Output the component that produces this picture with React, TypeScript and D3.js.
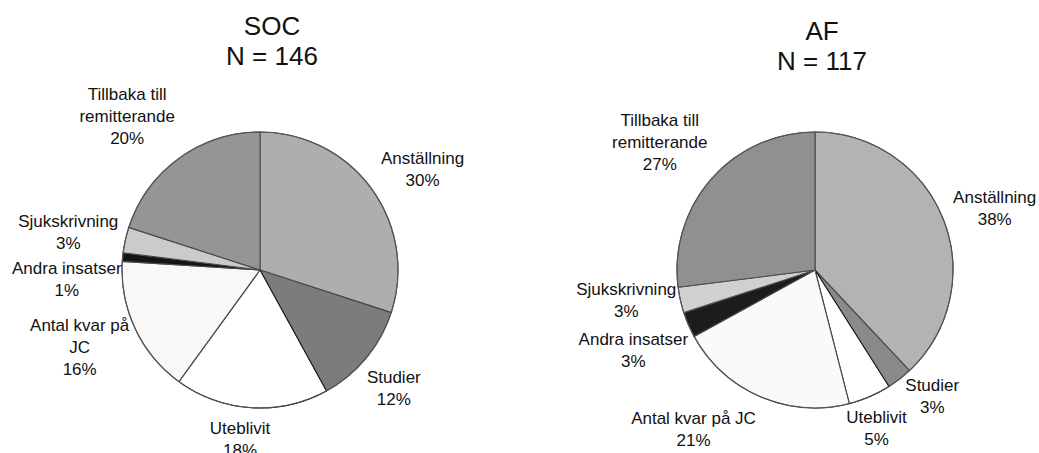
import React, { useRef, useEffect } from 'react';
import * as d3 from 'd3';

// categories, clockwise from 12 o'clock
const categories = [
  'Anställning',
  'Studier',
  'Uteblivit',
  'Antal kvar på JC',
  'Andra insatser',
  'Sjukskrivning',
  'Tillbaka till remitterande',
];

const socValues = [30, 12, 18, 16, 1, 3, 20];
const afValues = [38, 3, 5, 21, 3, 3, 27];

const socTitle = ['SOC', 'N = 146'];
const afTitle = ['AF', 'N = 117'];

// how the label text wraps in each chart
const socLabelLines = [
  ['Anställning'],
  ['Studier'],
  ['Uteblivit'],
  ['Antal kvar på', 'JC'],
  ['Andra insatser'],
  ['Sjukskrivning'],
  ['Tillbaka till', 'remitterande'],
];
const afLabelLines = [
  ['Anställning'],
  ['Studier'],
  ['Uteblivit'],
  ['Antal kvar på JC'],
  ['Andra insatser'],
  ['Sjukskrivning'],
  ['Tillbaka till', 'remitterande'],
];

const socFills = ['#aeaeae', '#7c7c7c', '#ffffff', '#f8f8f8', '#141414', '#cbcbcb', '#959595'];
const afFills = ['#b3b3b3', '#8a8a8a', '#ffffff', '#fafafa', '#1c1c1c', '#d0d0d0', '#909090'];

// nudges from the outer centroid to where the label block sits
const socNudge = [[21, 2], [-1, 6], [-9, -6], [-22, 2], [-19, 25], [-21, 0], [-30, -12]];
const afNudge = [[17, 2], [10, -12], [-8, -3], [-52, -2], [-21, 10], [-18, -8], [-24, -12]];

const W = 1039;
const H = 453;
const FONT = 'Arial, "Liberation Sans", Helvetica, sans-serif';

const drawPie = (svg, opts) => {
  const { cx, cy, r, values, fills, lines, nudge, title, titleDx, titleY } = opts;
  const g = svg.append('g').attr('transform', `translate(${cx},${cy})`);

  const pie = d3.pie().sort(null).value((d) => d)(values);
  const arc = d3.arc().innerRadius(0).outerRadius(r);
  const labelArc = d3.arc().innerRadius(r + 37).outerRadius(r + 37);

  g.selectAll('path')
    .data(pie)
    .enter()
    .append('path')
    .attr('d', arc)
    .attr('fill', (d, i) => fills[i])
    .attr('stroke', (d, i) => (i === 2 ? '#111' : '#4a4a4a'))
    .attr('stroke-width', 1.1)
    .attr('stroke-linejoin', 'round');

  // outline
  g.append('circle').attr('r', r).attr('fill', 'none').attr('stroke', '#555').attr('stroke-width', 1.1);

  const lineH = 22;
  pie.forEach((d, i) => {
    const [x0, y0] = labelArc.centroid(d);
    const x = x0 + nudge[i][0];
    const y = y0 + nudge[i][1];
    const rows = [...lines[i], `${values[i]}%`];
    const first = y + 6 - ((rows.length - 1) * lineH) / 2;
    const t = g.append('text')
      .attr('text-anchor', 'middle')
      .attr('font-family', FONT)
      .attr('font-size', 17)
      .attr('fill', '#111');
    rows.forEach((row, k) => {
      t.append('tspan').attr('x', x).attr('y', first + k * lineH).text(row);
    });
  });

  const tt = svg.append('text')
    .attr('text-anchor', 'middle')
    .attr('font-family', FONT)
    .attr('font-size', 26)
    .attr('fill', '#111');
  title.forEach((row, k) => {
    tt.append('tspan').attr('x', cx + titleDx).attr('y', titleY + k * 30).text(row);
  });
};

const App = () => {
  const svgRef = useRef(null);

  useEffect(() => {
    const svg = d3.select(svgRef.current).attr('width', W).attr('height', H);
    svg.selectAll('*').remove();
    svg.append('rect').attr('width', W).attr('height', H).attr('fill', '#fff');

    drawPie(svg, {
      cx: 260, cy: 270, r: 138,
      values: socValues, fills: socFills, lines: socLabelLines, nudge: socNudge,
      title: socTitle, titleDx: 12, titleY: 35,
    });
    drawPie(svg, {
      cx: 815, cy: 270, r: 138,
      values: afValues, fills: afFills, lines: afLabelLines, nudge: afNudge,
      title: afTitle, titleDx: 7, titleY: 40,
    });
  }, []);

  return (
    <svg
      ref={svgRef}
      style={{ position: 'absolute', left: 0, top: 0, display: 'block' }}
      aria-label={categories.join(', ')}
    />
  );
};

export default App;
